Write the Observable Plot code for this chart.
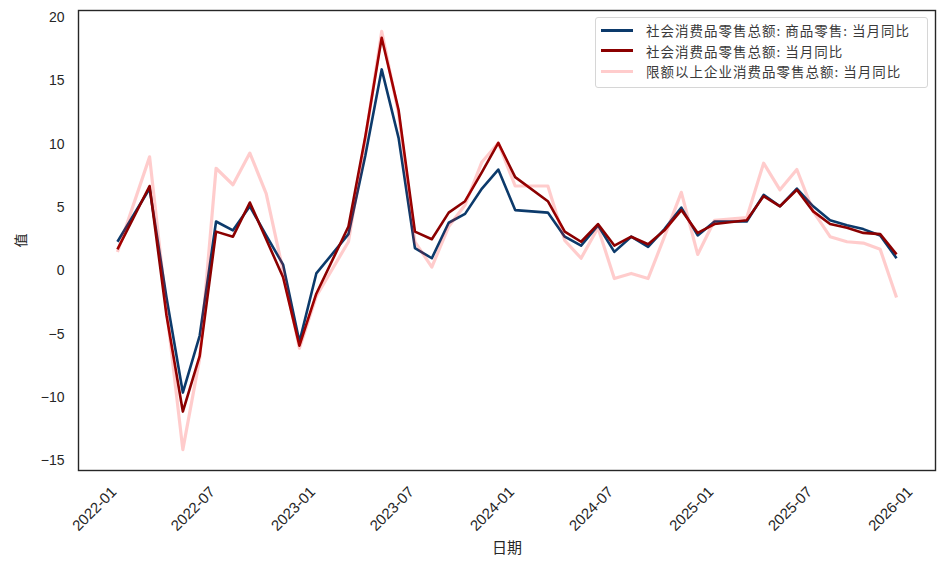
<!DOCTYPE html>
<html>
<head>
<meta charset="utf-8">
<script src="https://cdn.jsdelivr.net/npm/d3@7"></script>
<script src="https://cdn.jsdelivr.net/npm/@observablehq/plot@0.6"></script>
<style>
  body { margin: 0; background: #fff; }
  #wrap { position: relative; width: 943px; height: 566px; }
  .legend {
    position: absolute; left: 595px; top: 17px; width: 333px; height: 71px;
    box-sizing: border-box; border: 1px solid #d6d6d6; border-radius: 3px;
    background: rgba(255,255,255,0.85);
    font-family: "Noto Sans CJK SC", sans-serif; font-size: 13.5px; color: #3a3a3a;
    padding-top: 2px;
  }
  .legend .item { display: flex; align-items: center; height: 20.5px; }
  .legend .sw { width: 32px; height: 0; margin-left: 5px; margin-right: 13px; }
  .legend .tx { letter-spacing: 1px; white-space: nowrap; }
</style>
</head>
<body>
<div id="wrap"></div>
<script>
// ---- data (month-end observations; January folded into Jan-Feb release) ----
const months = [
  "2021-12",
  "2022-02","2022-03","2022-04","2022-05","2022-06","2022-07","2022-08","2022-09","2022-10","2022-11","2022-12",
  "2023-02","2023-03","2023-04","2023-05","2023-06","2023-07","2023-08","2023-09","2023-10","2023-11","2023-12",
  "2024-02","2024-03","2024-04","2024-05","2024-06","2024-07","2024-08","2024-09","2024-10","2024-11","2024-12",
  "2025-02","2025-03","2025-04","2025-05","2025-06","2025-07","2025-08","2025-09","2025-10","2025-11"
];
const goodsYoY = [
  2.3,
  6.5,-2.1,-9.6,-5.1,3.9,3.2,5.1,2.8,0.5,-5.6,-0.2,
  2.9,9.1,15.9,10.5,1.8,1.0,3.8,4.5,6.5,8.0,4.8,
  4.6,2.7,2.0,3.6,1.5,2.7,1.9,3.3,5.0,2.8,3.9,
  3.9,6.0,5.1,6.5,5.1,4.0,3.6,3.3,2.8,1.0
];
const totalYoY = [
  1.7,
  6.7,-3.5,-11.1,-6.7,3.1,2.7,5.4,2.5,-0.5,-5.9,-1.8,
  3.5,10.6,18.4,12.7,3.1,2.5,4.6,5.5,7.8,10.1,7.4,
  5.5,3.1,2.3,3.7,2.0,2.7,2.1,3.2,4.8,3.0,3.7,
  4.0,5.9,5.1,6.4,4.7,3.7,3.4,3.0,2.9,1.3
];
const aboveQuotaYoY = [
  1.5,
  9.0,-3.0,-14.1,-6.9,8.1,6.8,9.3,6.1,0.0,-6.1,-2.0,
  2.3,10.4,18.9,12.4,2.3,0.3,3.5,5.2,8.6,10.1,6.7,
  6.7,2.4,1.0,3.4,-0.6,-0.2,-0.6,2.7,6.2,1.3,4.0,
  4.2,8.5,6.4,8.0,4.7,2.7,2.3,2.2,1.7,-2.1
];
const seriesNames = [
  "社会消费品零售总额: 商品零售: 当月同比",
  "社会消费品零售总额: 当月同比",
  "限额以上企业消费品零售总额: 当月同比"
];
const seriesColors = ["#0c3a6b", "#8b0000", "#ff0000"];
const seriesOpacity = [1, 1, 0.2];
const seriesWidths = [2.6, 2.6, 3.2];
const xTickLabels = ["2022-01","2022-07","2023-01","2023-07","2024-01","2024-07","2025-01","2025-07","2026-01"];
const yTicks = [-15, -10, -5, 0, 5, 10, 15, 20];

// ---- build table ----
const parseMonth = d3.utcParse("%Y-%m");
const monthEnd = s => d3.utcDay.offset(d3.utcMonth.offset(parseMonth(s), 1), -1);
const allSeries = [goodsYoY, totalYoY, aboveQuotaYoY];
const rows = [];
allSeries.forEach((vals, i) => {
  months.forEach((m, j) => rows.push({ date: monthEnd(m), value: vals[j], series: seriesNames[i] }));
});

// matplotlib-like 5% margins
const xExt = d3.extent(rows, d => d.date);
const xPad = (xExt[1] - xExt[0]) * 0.05;
const xDomain = [new Date(+xExt[0] - xPad), new Date(+xExt[1] + xPad)];
const yExt = d3.extent(rows, d => d.value);
const yPad = (yExt[1] - yExt[0]) * 0.05;
const yDomain = [yExt[0] - yPad, yExt[1] + yPad];

const lineMarks = seriesNames.map((name, i) =>
  Plot.lineY(rows.filter(r => r.series === name), {
    x: "date", y: "value",
    stroke: seriesColors[i], strokeOpacity: seriesOpacity[i], strokeWidth: seriesWidths[i],
    strokeLinejoin: "round", strokeLinecap: "butt"
  })
);

const chart = Plot.plot({
  width: 943,
  height: 566,
  marginLeft: 78,
  marginRight: 8,
  marginTop: 10,
  marginBottom: 96,
  style: { fontFamily: "'Liberation Sans', Arial, 'Noto Sans CJK SC', sans-serif", fontSize: "14px", color: "#262626", background: "#fff" },
  x: { type: "utc", domain: xDomain },
  y: { domain: yDomain },
  marks: [
    Plot.axisY({ ticks: yTicks, tickSize: 0, tickPadding: 14, fontSize: 14,
      label: "值", labelAnchor: "center", labelArrow: "none", labelOffset: 62 }),
    Plot.axisX({ ticks: xTickLabels.map(parseMonth), tickFormat: d3.utcFormat("%Y-%m"),
      tickRotate: -45, tickSize: 0, tickPadding: 19, dx: -4, fontSize: 15,
      label: "日期", labelAnchor: "center", labelArrow: "none", labelOffset: 82 }),
    ...lineMarks,
    Plot.frame({ stroke: "#262626", strokeWidth: 1.4 })
  ]
});
const wrap = document.getElementById("wrap");
wrap.appendChild(chart);

// legend (inside the axes, upper right)
const leg = document.createElement("div");
leg.className = "legend";
seriesNames.forEach((name, i) => {
  const item = document.createElement("div");
  item.className = "item";
  const sw = document.createElement("div");
  sw.className = "sw";
  sw.style.borderTop = `${seriesWidths[i] + 0.4}px solid ${seriesColors[i]}`;
  sw.style.opacity = seriesOpacity[i];
  const tx = document.createElement("span");
  tx.className = "tx";
  tx.textContent = name;
  item.appendChild(sw); item.appendChild(tx);
  leg.appendChild(item);
});
wrap.appendChild(leg);
</script>
</body>
</html>
